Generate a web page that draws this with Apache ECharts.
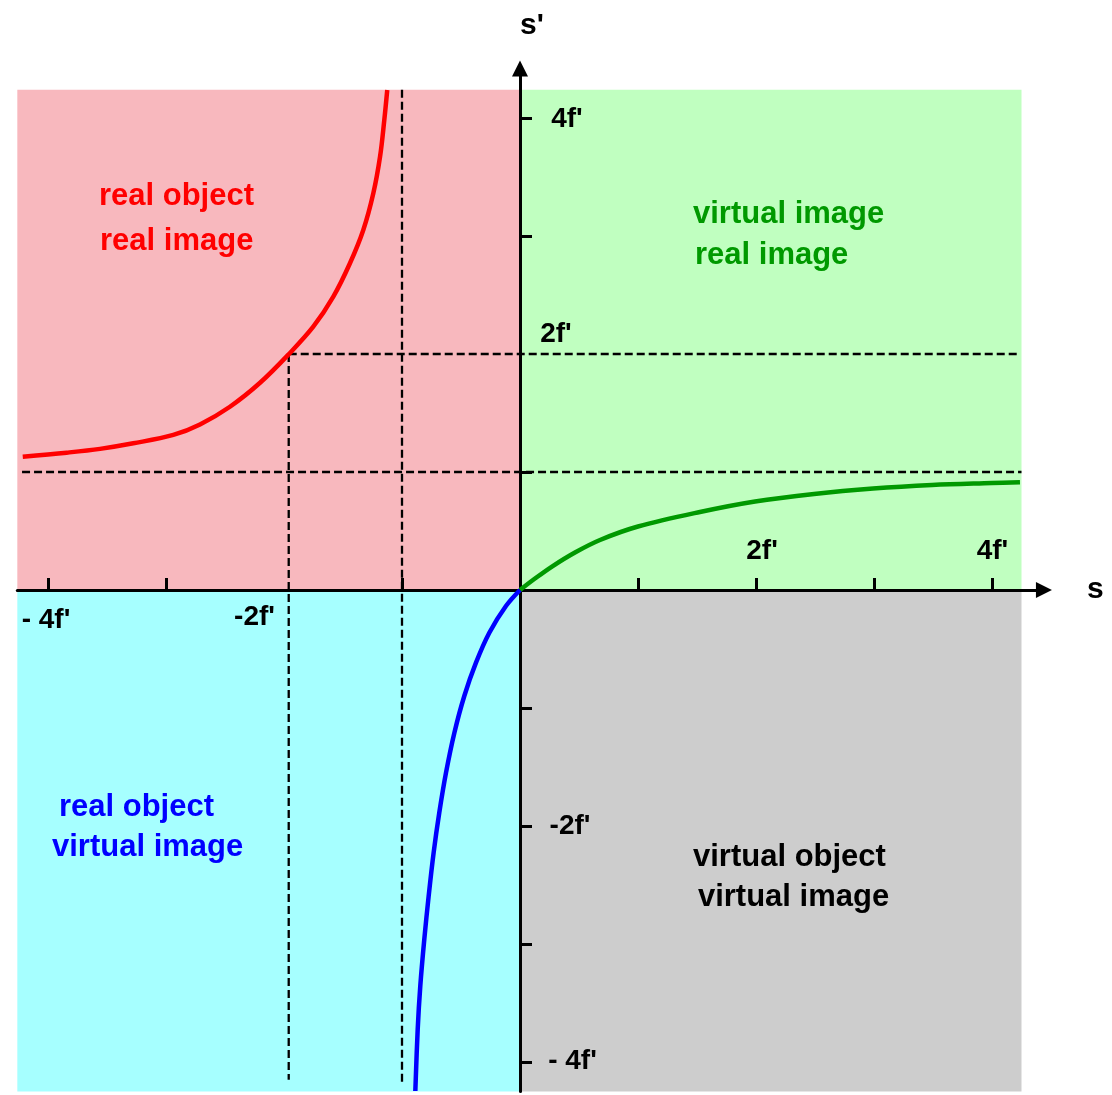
<!DOCTYPE html>
<html>
<head>
<meta charset="utf-8">
<script src="https://cdn.jsdelivr.net/npm/echarts@6/dist/echarts.min.js"></script>
<style>
  html, body { margin: 0; padding: 0; background: #ffffff; }
  #chart { width: 1112px; height: 1095px; }
</style>
</head>
<body>
<div id="chart"></div>
<script>
// Thin-lens imaging: image distance s' against object distance s, both in units of f'.

// Branch with a real object and a real image (s < -f')
const realRealS  = [-4.214, -3.842, -3.559, -3.277, -2.938, -2.712, -2.458, -2.203, -1.958, -1.752, -1.582, -1.441, -1.328, -1.243, -1.186, -1.150, -1.125];
const realRealSp = [ 1.130,  1.164,  1.196,  1.243,  1.314,  1.403,  1.553,  1.756,  2.000,  2.231,  2.486,  2.769,  3.051,  3.362,  3.672,  3.983,  4.237];

// Branch with a virtual object and a real image (s > 0)
const virtRealS  = [0, 0.127, 0.271, 0.466, 0.678, 1.000, 1.525, 1.992, 2.492, 2.992, 3.492, 4.000, 4.237];
const virtRealSp = [0, 0.097, 0.199, 0.318, 0.424, 0.538, 0.661, 0.750, 0.814, 0.860, 0.890, 0.907, 0.914];

// Branch with a real object and a virtual image (-f' < s < 0)
const realVirtS  = [0, -0.119, -0.260, -0.373, -0.472, -0.556, -0.627, -0.684, -0.732, -0.774, -0.811, -0.845, -0.867, -0.887];
const realVirtSp = [0, -0.136, -0.362, -0.616, -0.898, -1.209, -1.548, -1.887, -2.226, -2.593, -2.960, -3.356, -3.723, -4.246];

// Dashed construction lines: [start, end] of each
const asymptoteH = [[-4.22, 1], [4.25, 1]];     // s' = f'
const asymptoteV = [[-1, 4.24], [-1, -4.2]];    // s = -f'
const twoFH      = [[-1.96, 2], [4.21, 2]];     // s' = 2f'
const twoFV      = [[-1.96, 2], [-1.96, -4.15]];// s = -2f'

// Axis ticks
const xTickValues = [-4, -3, -1, 1, 2, 3, 4];
const yTickValues = [-4, -3, -2, -1, 1, 3, 4];

// Tick label texts
const xTickTexts = ["- 4f'", "-2f'", "2f'", "4f'"];
const yTickTexts = ["4f'", "2f'", "-2f'", "- 4f'"];

// Quadrant captions
const captionRealReal = ["real object", "real image"];
const captionVirtReal = ["virtual image", "real image"];
const captionRealVirt = ["real object", "virtual image"];
const captionVirtVirt = ["virtual object", "virtual image"];

// ---- layout (pixels per f', origin position) ----
const W = 1112, H = 1095;
const UNIT = 118, OX = 520, OY = 590;
const xMin = -4.26, xMax = 4.44, yMin = -4.25, yMax = 4.42;
const shade = { left: -4.263, right: 4.25, top: 4.24, bottom: -4.25 };

const FONT = "'Liberation Sans', Arial, Helvetica, sans-serif";

// anchors (label centres) for tick label texts, in axis units
const xTickAnchors = [[-4.017, -0.254], [-2.25, -0.229], [2.051, 0.331], [4.004, 0.331]];
const yTickAnchors = [[0.398, 3.992], [0.305, 2.169], [0.424, -2.0], [0.445, -3.99]];
// anchors (left edge, middle) for the captions
const captionAnchors = {
  realReal: [[-3.568, 3.331], [-3.559, 2.958]],
  virtReal: [[1.466, 3.186], [1.483, 2.839]],
  realVirt: [[-3.907, -1.847], [-3.966, -2.186]],
  virtVirt: [[1.466, -2.263], [1.508, -2.602]]
};

const zip = (a, b) => a.map((v, i) => [v, b[i]]);

function textSeries(name, texts, anchors, color, size, align) {
  return {
    name, type: 'scatter', z: 12, clip: false, silent: true,
    symbolSize: 0,
    itemStyle: { opacity: 1 },
    data: texts.map((t, i) => ({ value: anchors[i], label: { formatter: t } })),
    label: {
      show: true, position: 'inside', align: align, verticalAlign: 'middle',
      color: color, opacity: 1, fontSize: size, fontWeight: 'bold', fontFamily: FONT,
      textBorderWidth: 0
    }
  };
}

function dashed(name, pts) {
  return {
    name, type: 'line', z: 3, silent: true, symbol: 'none', clip: false,
    data: pts,
    lineStyle: { color: '#000', width: 2.3, type: [8, 4] }
  };
}

function curve(name, s, sp, color) {
  return {
    name, type: 'line', z: 10, silent: true, symbol: 'none', clip: false,
    smooth: 0.35,
    data: zip(s, sp),
    lineStyle: { color: color, width: 4.5 }
  };
}

const chart = echarts.init(document.getElementById('chart'), null, { renderer: 'canvas' });

const axisCommon = {
  type: 'value',
  z: 5,
  splitLine: { show: false },
  axisLabel: { show: false },
  axisLine: {
    show: true, onZero: true,
    symbol: ['none', 'triangle'], symbolSize: [16, 16],
    lineStyle: { color: '#000', width: 3 }
  },
  nameTextStyle: { color: '#000', fontSize: 30, fontWeight: 'bold', fontFamily: FONT }
};

chart.setOption({
  animation: false,
  backgroundColor: '#ffffff',
  grid: {
    left: OX + xMin * UNIT,
    right: W - (OX + xMax * UNIT),
    top: OY - yMax * UNIT,
    bottom: H - (OY - yMin * UNIT),
    containLabel: false
  },
  xAxis: Object.assign({}, axisCommon, {
    min: xMin, max: xMax,
    name: 's', nameLocation: 'end', nameGap: 43,
    axisTick: { show: true, inside: true, length: 12, customValues: xTickValues,
                lineStyle: { color: '#000', width: 3 } }
  }),
  yAxis: Object.assign({}, axisCommon, {
    min: yMin, max: yMax,
    name: "s'", nameLocation: 'end', nameGap: 28,
    nameTextStyle: Object.assign({}, axisCommon.nameTextStyle, { align: 'left' }),
    axisTick: { show: true, inside: true, length: 12, customValues: yTickValues,
                lineStyle: { color: '#000', width: 3 } }
  }),
  series: [
    {
      name: 'quadrants', type: 'line', z: 1, silent: true, symbol: 'none',
      data: [[0, 0]], lineStyle: { opacity: 0 },
      markArea: {
        silent: true,
        data: [
          [{ coord: [shade.left, 0], itemStyle: { color: '#f8b8be' } }, { coord: [0, shade.top] }],
          [{ coord: [0, 0], itemStyle: { color: '#c0ffc0' } }, { coord: [shade.right, shade.top] }],
          [{ coord: [shade.left, shade.bottom], itemStyle: { color: '#a6ffff' } }, { coord: [0, 0] }],
          [{ coord: [0, shade.bottom], itemStyle: { color: '#cdcdcd' } }, { coord: [shade.right, 0] }]
        ]
      }
    },
    dashed('asymptote s\'', asymptoteH),
    dashed('asymptote s', asymptoteV),
    dashed('2f\' horizontal', twoFH),
    dashed('2f\' vertical', twoFV),
    curve('real object, real image', realRealS, realRealSp, '#ff0000'),
    curve('virtual object, real image', virtRealS, virtRealSp, '#009900'),
    curve('real object, virtual image', realVirtS, realVirtSp, '#0000ff'),
    textSeries('x tick labels', xTickTexts, xTickAnchors, '#000000', 28, 'center'),
    textSeries('y tick labels', yTickTexts, yTickAnchors, '#000000', 28, 'center'),
    textSeries('caption RR', captionRealReal, captionAnchors.realReal, '#ff0000', 31, 'left'),
    textSeries('caption VR', captionVirtReal, captionAnchors.virtReal, '#009900', 31, 'left'),
    textSeries('caption RV', captionRealVirt, captionAnchors.realVirt, '#0000ff', 31, 'left'),
    textSeries('caption VV', captionVirtVirt, captionAnchors.virtVirt, '#000000', 31, 'left')
  ]
});
</script>
</body>
</html>
